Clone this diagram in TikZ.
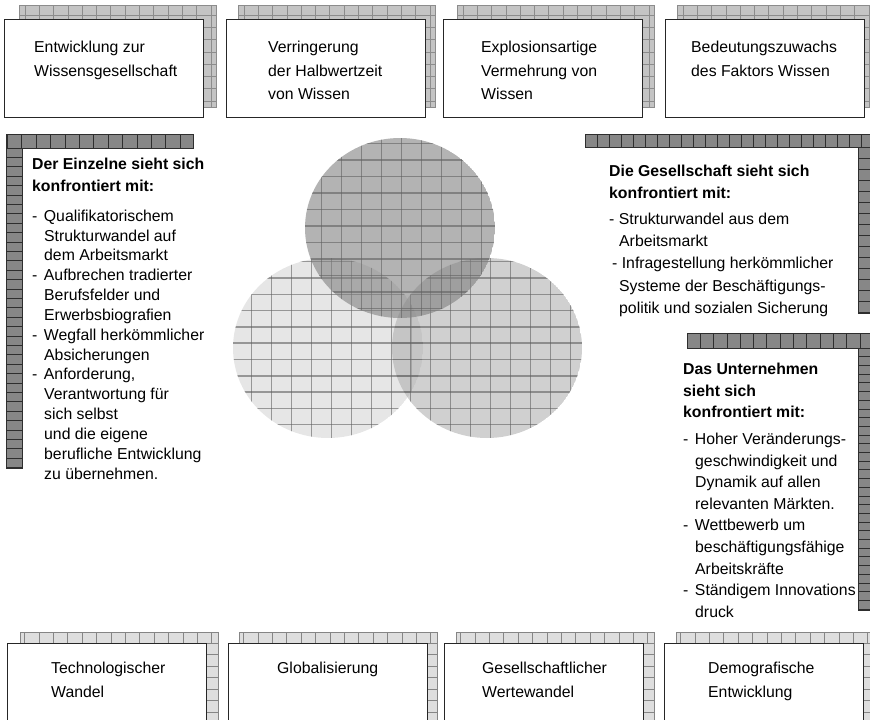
\documentclass[tikz,border=0pt]{standalone}
\usepackage{fontspec}
\setmainfont{Liberation Sans}
\definecolor{topback}{gray}{0.77}
\definecolor{topline}{gray}{0.55}
\definecolor{botback}{gray}{0.87}
\definecolor{botline}{gray}{0.52}
\definecolor{darkstrip}{gray}{0.53}
\definecolor{darkline}{gray}{0.18}
\definecolor{cleft}{gray}{0.84}
\definecolor{cright}{gray}{0.69}
\definecolor{ctop}{gray}{0.50}
\definecolor{cgrid}{gray}{0.38}
\newcommand\vgrid[7]{\begin{scope}\clip (#1,#2) rectangle (#3,#4);
  \foreach \k in {0,...,64}{\draw[#7] ({#5+\k*#6},#2) -- ({#5+\k*#6},#4);}\end{scope}}
\newcommand\hgrid[7]{\begin{scope}\clip (#1,#2) rectangle (#3,#4);
  \foreach \k in {0,...,64}{\draw[#7] (#1,{#5+\k*#6}) -- (#3,{#5+\k*#6});}\end{scope}}
\newcommand\ci{\hspace*{12pt}}
\tikzset{
  frontbox/.style={draw=black!85, line width=1pt, fill=white, anchor=north west,
    minimum width=199pt, minimum height=98pt, inner sep=0pt},
  boxtxt/.style={anchor=north west, inner sep=0pt, align=left,
    font=\fontsize{15.8}{23.5}\selectfont},
  paneltxt/.style={anchor=north west, inner sep=0pt, align=left,
    font=\fontsize{15.8}{21.6}\selectfont},
  listtxt/.style={anchor=north west, inner sep=0pt, align=left,
    font=\fontsize{15.8}{19.85}\selectfont},
  tl/.style={draw=topline, line width=0.8pt},
  bl/.style={draw=botline, line width=0.8pt},
  dl/.style={draw=darkline, line width=0.8pt},
  cl/.style={draw=cgrid, line width=1.5pt, draw opacity=0.6},
}
\begin{document}
\begin{tikzpicture}[x=1pt,y=-1pt]
\useasboundingbox (0,0) rectangle (870,720);
\clip (0,0) rectangle (870,720);

% ---------- top boxes ----------
\foreach \bx/\fx in {19/4, 238/226, 457/443, 677/665}{
  \fill[topback] (\bx,5) rectangle ({\bx+197},107);
  \vgrid{\bx}{5}{\bx+197}{107}{\bx-8.3}{14.3}{tl}
  \hgrid{\bx}{5}{\bx+197}{107}{2.7}{12.3}{tl}
  \draw[tl] (\bx,5) rectangle ({\bx+197},107);
}
\node[frontbox] (T1) at (4,19) {};
\node[frontbox] (T2) at (226,19) {};
\node[frontbox] (T3) at (443,19) {};
\node[frontbox] (T4) at (665,19) {};
\node[boxtxt] (T1t) at (34,41) {Entwicklung zur\\Wissensgesellschaft};
\node[boxtxt] (T2t) at (268,41) {Verringerung\\der Halbwertzeit\\von Wissen};
\node[boxtxt] (T3t) at (481,41) {Explosionsartige\\Vermehrung von\\Wissen};
\node[boxtxt] (T4t) at (691,41) {Bedeutungszuwachs\\des Faktors Wissen};

% ---------- bottom boxes ----------
\foreach \bx/\fx in {20/7, 239/228, 456/444, 676/664}{
  \fill[botback] (\bx,632) rectangle ({\bx+198},730);
  \vgrid{\bx}{632}{\bx+198}{643}{\bx+4.5}{14.4}{bl}
  \hgrid{\fx}{643}{\bx+198}{730}{643}{11.5}{bl}
  \draw[bl] (\bx,632) rectangle ({\bx+198},730);
}
\node[frontbox, minimum height=100pt] (B1) at (7,643) {};
\node[frontbox, minimum height=100pt] (B2) at (228,643) {};
\node[frontbox, minimum height=100pt] (B3) at (444,643) {};
\node[frontbox, minimum height=100pt] (B4) at (664,643) {};
\node[boxtxt] (B1t) at (51,662) {Technologischer\\Wandel};
\node[boxtxt] (B2t) at (277,662) {Globalisierung};
\node[boxtxt] (B3t) at (482,662) {Gesellschaftlicher\\Wertewandel};
\node[boxtxt] (B4t) at (708,662) {Demografische\\Entwicklung};

% ---------- left panel strips ----------
\fill[darkstrip] (6,134) rectangle (193,148);
\fill[darkstrip] (6,148) rectangle (22,468);
\vgrid{6}{134}{193}{148}{7.3}{14.4}{dl}
\hgrid{6}{148}{22}{468}{148}{9.4}{dl}
\draw[dl] (6,468) -- (6,134) -- (193,134) -- (193,148) -- (22,148) -- (22,468) -- cycle;

% ---------- Gesellschaft strips ----------
\fill[darkstrip] (585,134) rectangle (875,147);
\fill[darkstrip] (858,147) rectangle (875,313);
\vgrid{585}{134}{875}{147}{585}{12}{dl}
\hgrid{858}{147}{875}{313}{147}{11}{dl}
\draw[dl] (875,313) -- (858,313) -- (858,147) -- (585,147) -- (585,134) -- (875,134);

% ---------- Unternehmen strips ----------
\fill[darkstrip] (687,333) rectangle (875,348);
\fill[darkstrip] (858,348) rectangle (875,610);
\vgrid{687}{333}{875}{348}{687}{13.3}{dl}
\hgrid{858}{348}{875}{610}{348}{8.7}{dl}
\draw[dl] (875,610) -- (858,610) -- (858,348) -- (687,348) -- (687,333) -- (875,333);

% ---------- circles ----------
\begin{scope}
  \clip (328,348) ellipse [x radius=95pt, y radius=90pt];
  \fill[cleft, fill opacity=0.6] (328,348) ellipse [x radius=95pt, y radius=90pt];
  \vgrid{230}{255}{425}{440}{231.7}{20}{cl}
  \hgrid{230}{255}{425}{440}{261.7}{16.3}{cl}
\end{scope}
\begin{scope}
  \clip (487,348) ellipse [x radius=95pt, y radius=90pt];
  \fill[cright, fill opacity=0.6] (487,348) ellipse [x radius=95pt, y radius=90pt];
  \vgrid{390}{255}{585}{440}{390.7}{20}{cl}
  \hgrid{390}{255}{585}{440}{261.7}{16.3}{cl}
\end{scope}
\begin{scope}
  \clip (400,228) ellipse [x radius=95pt, y radius=90pt];
  \fill[ctop, fill opacity=0.6] (400,228) ellipse [x radius=95pt, y radius=90pt];
  \vgrid{302}{135}{498}{320}{301.7}{20}{cl}
  \hgrid{302}{135}{498}{320}{143.5}{16.5}{cl}
\end{scope}

% ---------- panel texts ----------
\node[paneltxt] (P1) at (32,158) {\textbf{Der Einzelne sieht sich}\\
\textbf{konfrontiert mit:}};
\node[listtxt] (P1l) at (32,209.5) {-\hspace{6.5pt}Qualifikatorischem\\
\ci Strukturwandel auf\\
\ci dem Arbeitsmarkt\\
-\hspace{6.5pt}Aufbrechen tradierter\\
\ci Berufsfelder und\\
\ci Erwerbsbiografien\\
-\hspace{6.5pt}Wegfall herkömmlicher\\
\ci Absicherungen\\
-\hspace{6.5pt}Anforderung,\\
\ci Verantwortung für\\
\ci sich selbst\\
\ci und die eigene\\
\ci berufliche Entwicklung\\
\ci zu übernehmen.};

\node[paneltxt, font=\fontsize{15.8}{22.2}\selectfont] (P2) at (609,164.5) {\textbf{Die Gesellschaft sieht sich}\\
\textbf{konfrontiert mit:}\\[4pt]
- Strukturwandel aus dem\\
\hspace*{10pt}Arbeitsmarkt\\
\hspace*{3pt}- Infragestellung herkömmlicher\\
\hspace*{10pt}Systeme der Beschäftigungs-\\
\hspace*{10pt}politik und sozialen Sicherung};

\node[paneltxt] (P3) at (683,363) {\textbf{Das Unternehmen}\\
\textbf{sieht sich}\\
\textbf{konfrontiert mit:}\\[5pt]
-\hspace{6.5pt}Hoher Veränderungs-\\
\ci geschwindigkeit und\\
\ci Dynamik auf allen\\
\ci relevanten Märkten.\\
-\hspace{6.5pt}Wettbewerb um\\
\ci beschäftigungsfähige\\
\ci Arbeitskräfte\\
-\hspace{6.5pt}Ständigem Innovations\\
\ci druck};
\end{tikzpicture}
\end{document}
